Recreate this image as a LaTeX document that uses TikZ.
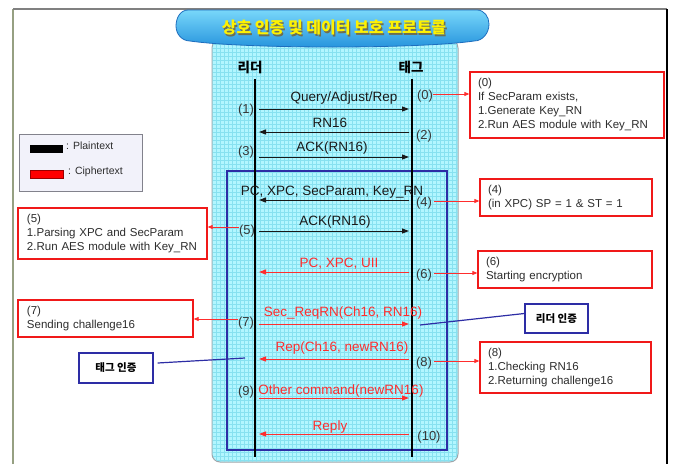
\documentclass[tikz,border=0pt]{standalone}
\usepackage{fontspec}
\setmainfont{Liberation Sans}
\newfontfamily\kr{Noto Sans CJK KR}
\usetikzlibrary{arrows.meta}
\definecolor{cyanbg}{RGB}{178,246,255}
\definecolor{gridc}{RGB}{135,225,240}
\definecolor{panelborder}{RGB}{160,165,170}
\definecolor{bluebox}{RGB}{45,45,165}
\definecolor{boxred}{RGB}{240,25,25}
\definecolor{msgred}{RGB}{255,45,45}
\definecolor{msgblack}{RGB}{25,25,25}
\definecolor{numgray}{RGB}{55,55,55}
\definecolor{boxtext}{RGB}{45,45,45}
\definecolor{legendfill}{RGB}{242,242,250}
\definecolor{legendborder}{RGB}{130,130,140}
\definecolor{framegreen}{RGB}{150,160,130}
\definecolor{bantop}{RGB}{120,215,250}
\definecolor{banbot}{RGB}{35,145,220}
\definecolor{banedge}{RGB}{30,110,190}
\definecolor{titleshadow}{RGB}{110,110,80}
\begin{document}
\begin{tikzpicture}[x=1pt,y=-1pt,
  msg/.style={line width=1pt,-{Triangle[length=7pt,width=5pt]}},
  lbl/.style={font=\fontsize{13.5}{15}\selectfont, inner sep=0pt},
  num/.style={font=\fontsize{13}{15}\selectfont, text=numgray, inner sep=0pt},
  rbox/.style={draw=boxred, line width=1.3pt, fill=white, align=left, inner xsep=8pt,
     font=\fontsize{11.5}{14}\selectfont, text=boxtext},
  bbox/.style={draw=bluebox, line width=1.3pt, fill=white,
     font=\kr\bfseries\fontsize{10.5}{12}\selectfont},
  side/.style={draw=msgred, line width=0.8pt, -{Triangle[length=5pt,width=4pt]}},
  bline/.style={draw=bluebox, line width=1.2pt},
  hdr/.style={font=\kr\bfseries\fontsize{13.5}{16}\selectfont, inner sep=0pt}
]
\useasboundingbox (0,0) rectangle (675,464);
% outer frame
\draw[framegreen, line width=1.5pt] (13,464) -- (13,9);
\draw[gray, line width=1.5pt] (13,9) -- (667,9);
\draw[black, line width=1.5pt] (667,9) -- (667,464);
% panel
\draw[panelborder, fill=cyanbg, line width=1pt, rounded corners=8pt] (212,40) rectangle (458,462);
\begin{scope}
  \clip[rounded corners=8pt] (212.5,40) rectangle (457.5,461.5);
  \draw[gridc, line width=0.35pt] (212,40) grid[step=4pt] (458,462);
\end{scope}
% blue region
\draw[bluebox, line width=2pt] (227,171) rectangle (447,450);
% banner
\draw[banedge, line width=0.8pt, top color=bantop, bottom color=banbot]
  (188,10) -- (477,10) to[out=0,in=90] (489,24) to[out=-90,in=0] (474,41)
  .. controls (420,49) and (245,49) .. (190,41)
  to[out=180,in=-90] (176,26) to[out=90,in=180] (188,10) -- cycle;
\node[font=\kr\bfseries\fontsize{16}{18}\selectfont, text=titleshadow] (titlesh) at (335.3,29.3) {상호 인증 및 데이터 보호 프로토콜};
\node[font=\kr\bfseries\fontsize{16}{18}\selectfont, text=yellow] (title) at (334,28) {상호 인증 및 데이터 보호 프로토콜};
% headers and lifelines
\node[hdr] (hR) at (250,67) {리더};
\node[hdr] (hT) at (411,67) {태그};
\coordinate (Rtop) at (255,79); \coordinate (Rbot) at (255,457);
\coordinate (Ttop) at (412,79); \coordinate (Tbot) at (412,457);
\draw[black, line width=1.5pt] (Rtop) -- (Rbot);
\draw[black, line width=2.5pt] (Ttop) -- (Tbot);
% message end points
\foreach \i/\y in {1/109,2/132,3/157,4/200,5/231,6/272,7/324,8/359,9/398,10/434}{
  \coordinate (r\i) at (259,\y);
  \coordinate (t\i) at (409,\y);
}
\draw[msg, draw=msgblack] (r1) -- (t1);
\draw[msg, draw=msgblack] (t2) -- (r2);
\draw[msg, draw=msgblack] (r3) -- (t3);
\draw[msg, draw=msgblack] (t4) -- (r4);
\draw[msg, draw=msgblack] (r5) -- (t5);
\draw[msg, draw=msgred] (t6) -- (r6);
\draw[msg, draw=msgred] (r7) -- (t7);
\draw[msg, draw=msgred] (t8) -- (r8);
\draw[msg, draw=msgred] (r9) -- (t9);
\draw[msg, draw=msgred] (t10) -- (r10);
% message labels
\node[lbl, text=msgblack] (m1) at (344,98) {Query/Adjust/Rep};
\node[lbl, text=msgblack] (m2) at (330,123) {RN16};
\node[lbl, text=msgblack] (m3) at (332,148) {ACK(RN16)};
\node[lbl, text=msgblack] (m4) at (332,192) {PC, XPC, SecParam, Key\_RN};
\node[lbl, text=msgblack] (m5) at (335,222) {ACK(RN16)};
\node[lbl, text=msgred] (m6) at (339,264) {PC, XPC, UII};
\node[lbl, text=msgred] (m7) at (343,313) {Sec\_ReqRN(Ch16, RN16)};
\node[lbl, text=msgred] (m8) at (342,348) {Rep(Ch16, newRN16)};
\node[lbl, text=msgred] (m9) at (341,391) {Other command(newRN16)};
\node[lbl, text=msgred] (m10) at (330,427) {Reply};
% step numbers
\node[num] (n0) at (425,96) {(0)};
\node[num] (n1) at (246,110) {(1)};
\node[num] (n2) at (424,136) {(2)};
\node[num] (n3) at (246,152) {(3)};
\node[num] (n4) at (424,203) {(4)};
\node[num] (n5) at (247,231) {(5)};
\node[num] (n6) at (424,275) {(6)};
\node[num] (n7) at (246,323) {(7)};
\node[num] (n8) at (424,363) {(8)};
\node[num] (n9) at (246,392) {(9)};
\node[num] (n10) at (429,437) {(10)};
% red note boxes
\node[rbox, text width=178pt, minimum height=66pt] (b0) at (567,105)
  {(0)\\If SecParam exists,\\1.Generate Key\_RN\\2.Run AES module with Key\_RN};
\node[rbox, text width=156pt, minimum height=37pt] (b4) at (566,197.5)
  {(4)\\(in XPC) SP = 1 \& ST = 1};
\node[rbox, text width=171pt, inner xsep=9pt, minimum height=51pt] (b5) at (112.5,233.5)
  {(5)\\1.Parsing XPC and SecParam\\2.Run AES module with Key\_RN};
\node[rbox, text width=158pt, minimum height=37pt] (b6) at (565,269.5)
  {(6)\\Starting encryption};
\node[rbox, text width=157pt, inner xsep=9pt, minimum height=37pt] (b7) at (105.5,318.5)
  {(7)\\Sending challenge16};
\node[rbox, text width=155pt, minimum height=51pt] (b8) at (565.5,367.5)
  {(8)\\1.Checking RN16\\2.Returning challenge16};
% red pointers
\draw[side] ([yshift=2pt]n0.east) -- ([yshift=2pt]n0.east -| b0.west);
\draw[side] ([xshift=2pt,yshift=2pt]n4.east) -- ([yshift=2pt]n4.east -| b4.west);
\draw[side] ([yshift=4pt]n5.west) -- ([yshift=4pt]n5.west -| b5.east);
\draw[side] ([xshift=2pt,yshift=2pt]n6.east) -- ([yshift=2pt]n6.east -| b6.west);
\draw[side] ([yshift=4pt]n7.west) -- ([yshift=4pt]n7.west -| b7.east);
\draw[side] ([xshift=2pt,yshift=2pt]n8.east) -- ([yshift=2pt]n8.east -| b8.west);
% authentication callouts
\node[bbox, minimum width=63pt, minimum height=29pt] (ra) at (556.5,318.5) {리더 인증};
\node[bbox, minimum width=74pt, minimum height=30pt] (ta) at (116,368) {태그 인증};
\coordinate (raend) at (420,325);
\coordinate (taend) at (245,358);
\draw[bline] (raend) -- ([yshift=5pt]ra.west);
\draw[bline] ([xshift=4pt,yshift=5pt]ta.east) -- (taend);
% legend
\node[draw=legendborder, fill=legendfill, line width=1pt, minimum width=123pt, minimum height=57pt] (legend) at (80.5,162.5) {};
\fill[black] (30,145) rectangle (63,153);
\filldraw[fill=red, draw=red!60!black, line width=0.6pt] (30,170) rectangle (63,178);
\node[anchor=west, inner sep=0pt, font=\fontsize{10.5}{12}\selectfont, text=boxtext] (lp) at (66,146) {: Plaintext};
\node[anchor=west, inner sep=0pt, font=\fontsize{10.5}{12}\selectfont, text=boxtext] (lc) at (68,172) {: Ciphertext};
\end{tikzpicture}
\end{document}
